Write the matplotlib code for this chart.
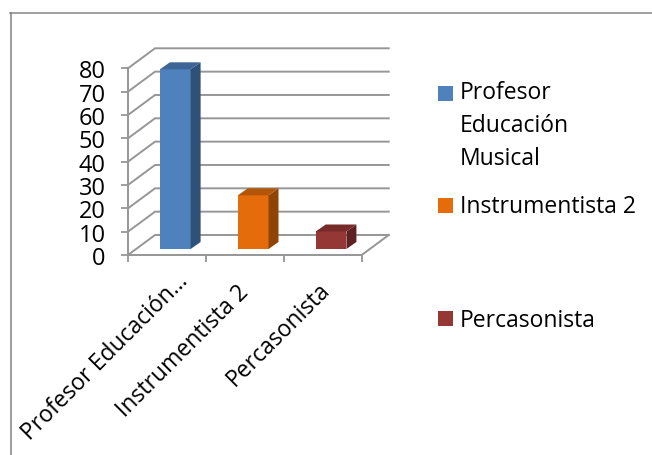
import matplotlib
matplotlib.use("Agg")
from matplotlib import pyplot as plt
from matplotlib.patches import Polygon, Rectangle

categories = ["Profesor Educación…", "Instrumentista 2", "Percasonista"]
legend_labels = ["Profesor\nEducación\nMusical", "Instrumentista 2", "Percasonista"]
values = [77, 23, 7.5]
y_ticks = [0, 10, 20, 30, 40, 50, 60, 70, 80]

front_colors = ["#4F81BD", "#E46C0A", "#953735"]
side_colors = ["#2F5078", "#8F4406", "#5E2120"]
top_colors = ["#3D6596", "#B35508", "#772C2A"]

W, H = 652, 456
plt.rcParams["font.family"] = ["Open Sans", "DejaVu Sans"]

fig = plt.figure(figsize=(W / 100, H / 100), dpi=100)

# whole-picture frame, drawn in pixels
bg = fig.add_axes([0, 0, 1, 1])
bg.set_xlim(0, W)
bg.set_ylim(H, 0)
bg.axis("off")
bg.plot([11, 11], [456, 13.5], color="#A0A0A0", lw=1.5)
bg.plot([10, 652], [13.5, 13.5], color="#858585", lw=1.1)

# front plane of the fake 3d box
ax = fig.add_axes([128 / W, 1 - 256 / H, (361.7 - 128) / W, (256 - 69.3) / H])
ax.set_xlim(0, 3)
ax.set_ylim(0, 80)
ax.patch.set_visible(False)
for s in ax.spines.values():
    s.set_visible(False)

grid_c = "#969696"
dx, dy = 0.347, 8.57  # depth of the box
for v in y_ticks:
    ax.plot([0, dx, 3 + dx], [v, v + dy, v + dy], color=grid_c, lw=1.4, clip_on=False,
            solid_joinstyle="miter", zorder=1)
ax.plot([0, 0], [0, 80], color=grid_c, lw=1.4, clip_on=False, zorder=1)
ax.plot([0, 3, 3 + dx], [0, 0, dy], color=grid_c, lw=1.4, clip_on=False, zorder=1)

# bars stand a bit inside the floor
shift_x, shift_y = 0.107, 2.57
bar_w = 0.394
bar_dx, bar_dy = 0.128, 3.0
for i, v in enumerate(values):
    x0 = i + 0.5 - bar_w / 2 + shift_x
    x1 = x0 + bar_w
    y0 = shift_y
    y1 = shift_y + v
    ax.add_patch(Rectangle((x0, y0), bar_w, v, fc=front_colors[i], ec="none", zorder=3, clip_on=False))
    ax.add_patch(Polygon([(x1, y0), (x1 + bar_dx, y0 + bar_dy), (x1 + bar_dx, y1 + bar_dy), (x1, y1)],
                         fc=side_colors[i], ec="none", zorder=3, clip_on=False))
    ax.add_patch(Polygon([(x0, y1), (x1, y1), (x1 + bar_dx, y1 + bar_dy), (x0 + bar_dx, y1 + bar_dy)],
                         fc=top_colors[i], ec="none", zorder=3, clip_on=False))

ax.set_xticks([0, 1, 2, 3])
ax.set_xticklabels([])
ax.set_yticks(y_ticks)
ax.tick_params(axis="both", color=grid_c, width=1.3, length=5)
ax.tick_params(axis="y", labelsize=17, pad=11, labelcolor="black")

# the labels do not sit evenly under the ticks in the reference
label_off = [(6.5, -10), (-6, -18), (-3.5, -16)]
for i, c in enumerate(categories):
    ax.annotate(c, xy=(i + 0.5, 0), xytext=label_off[i], textcoords="offset points",
                rotation=45, rotation_mode="anchor", ha="right", va="top",
                fontsize=16.5, color="black", annotation_clip=False)

# legend by hand so the uneven spacing stays
legend_y = [94.5, 206.5, 319.5]
for c, y in zip(front_colors, legend_y):
    bg.add_patch(Rectangle((438, y - 7.5), 15, 15, fc=c, ec="none"))
bg.text(460, 126, legend_labels[0], fontsize=16.5, va="center", ha="left", linespacing=1.5)
bg.text(460, 207, legend_labels[1], fontsize=16.5, va="center", ha="left")
bg.text(460, 321, legend_labels[2], fontsize=16.5, va="center", ha="left")

fig.savefig("out.png", dpi=100)
